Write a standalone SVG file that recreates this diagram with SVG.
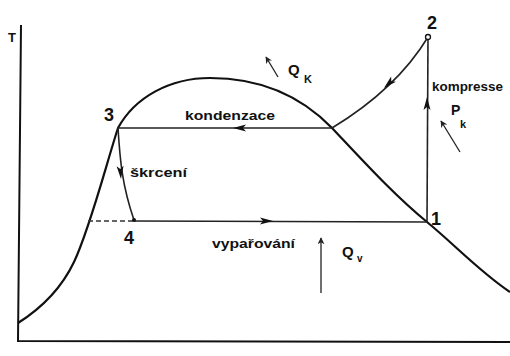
<svg xmlns="http://www.w3.org/2000/svg" width="510" height="356" viewBox="0 0 510 356">
<style>
.axis{fill:none;stroke:#111;stroke-width:2}
.dome{fill:none;stroke:#111;stroke-width:2.2}
.cyc{fill:none;stroke:#222;stroke-width:1.6}
.dash{fill:none;stroke:#333;stroke-width:1.4;stroke-dasharray:5,3}
.thin{fill:none;stroke:#222;stroke-width:1.3;marker-end:url(#sm)}
.t{font-family:"Liberation Sans",Arial,sans-serif;font-weight:bold;fill:#111}
.ah{fill:#111}
</style>
<defs>
<path id="ah" d="M0,0 L-13,-3.5 L-10,0 L-13,3.5 Z"/>
<marker id="sm" viewBox="0 0 10 10" refX="9" refY="5" markerWidth="7" markerHeight="7" markerUnits="userSpaceOnUse" orient="auto">
<path d="M0,0 L10,5 L0,10 L3,5 Z" fill="#222"/>
</marker>
</defs>
<rect width="510" height="356" fill="#fff"/>
<g id="axes">
<path class="axis" d="M21,25 L18,341 L510,342"/>
<text class="t" x="8" y="42" font-size="13">T</text>
</g>
<g id="dome">
<path class="dome" d="M18,323 C45,306 63,285 74,262 C90,228 106,165 118,128 C135,97 170,78 210,78 C260,78 300,95 332,128 C365,163 395,196 427,222 C455,245 480,272 510,292"/>
</g>
<g id="connectors">
<path id="kondenzace-line" class="cyc" d="M332,128 L118,128"/>
<path id="komp-curve" class="cyc" d="M428,37 C405,75 370,105 332,128"/>
<path id="komp-line" class="cyc" d="M427,222 L428,37"/>
<path id="skrceni-curve" class="cyc" d="M118,128 C120,160 122,185 134,220"/>
<path id="vyp-line" class="cyc" d="M134,221 L427,222"/>
<path class="dash" d="M88,221 L134,221"/>
<use href="#ah" class="ah" transform="translate(233,128) rotate(180)"/>
<use href="#ah" class="ah" transform="translate(273,221)"/>
<use href="#ah" class="ah" transform="translate(427,97) rotate(-90)"/>
<use href="#ah" class="ah" transform="translate(384,88) rotate(137)"/>
<use href="#ah" class="ah" transform="translate(121,179) rotate(86)"/>
<path class="thin" d="M278,77 L266,57"/>
<path class="thin" d="M460,152 L441,121"/>
<path class="thin" d="M321,293 L321,238"/>
</g>
<g id="p2"><circle cx="428" cy="37" r="2.5" fill="#fff" stroke="#111" stroke-width="1.3"/><text class="t" x="427" y="29" font-size="18">2</text></g>
<g id="p1"><text class="t" x="431" y="225" font-size="18">1</text></g>
<g id="p3"><text class="t" x="104" y="121" font-size="18">3</text></g>
<g id="p4"><circle cx="134" cy="220" r="2" fill="#111"/><text class="t" x="124" y="244" font-size="18">4</text></g>
<g id="labels">
<text class="t" x="185" y="120" font-size="13" textLength="90" lengthAdjust="spacingAndGlyphs">kondenzace</text>
<text class="t" x="130" y="177" font-size="12" textLength="57" lengthAdjust="spacingAndGlyphs">škrcení</text>
<text class="t" x="212" y="248" font-size="12" textLength="83" lengthAdjust="spacingAndGlyphs">vypařování</text>
<text class="t" x="432" y="91" font-size="12" textLength="71" lengthAdjust="spacingAndGlyphs">kompresse</text>
<text class="t" x="288" y="75" font-size="15">Q</text><text class="t" x="304" y="83" font-size="11">K</text>
<text class="t" x="451" y="115" font-size="14">P</text><text class="t" x="460" y="128" font-size="11">k</text>
<text class="t" x="342" y="257" font-size="15">Q</text><text class="t" x="357" y="262" font-size="10">v</text>
</g>
</svg>
